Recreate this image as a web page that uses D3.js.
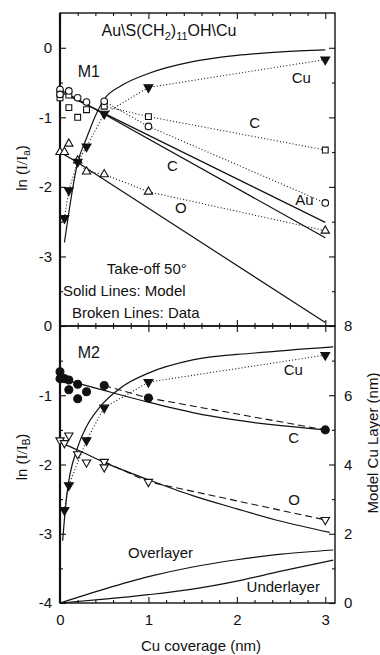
<!DOCTYPE html>
<html>
<head>
<meta charset="utf-8">
<script src="https://cdn.jsdelivr.net/npm/d3@7"></script>
<style>
  html, body { margin: 0; padding: 0; background: #fff; }
  svg { display: block; font-family: "Liberation Sans", Arial, Helvetica, sans-serif; }
  text { fill: #111; }
</style>
</head>
<body>
<script>
// ---- Data: ln(I/Ia) versus Cu coverage (nm) ----
const xTickValues = [0, 1, 2, 3];
const xTickLabels = ["0", "1", "2", "3"];
const topYTicks = [0, -1, -2, -3];
const bottomYTicks = [0, -1, -2, -3, -4];
const layerTicks = [0, 2, 4, 6, 8];

// Panel M1: measured points [coverage, ln(I/Ia)]
const m1Cu = [[0.05, -2.45], [0.1, -2.05], [0.2, -1.64], [0.3, -1.42], [0.5, -0.95], [1, -0.57], [3, -0.17]];
const m1Au = [[0, -0.6], [0, -0.67], [0.1, -0.62], [0.2, -0.72], [0.3, -0.78], [0.5, -0.77], [1, -1.13], [3, -2.23]];
const m1C  = [[0, -0.64], [0, -0.72], [0.1, -0.68], [0.1, -0.86], [0.2, -1.0], [0.3, -0.89], [0.5, -0.84], [1, -0.99], [3, -1.47]];
const m1O  = [[0, -1.5], [0.05, -1.5], [0.1, -1.38], [0.2, -1.62], [0.3, -1.78], [0.5, -1.82], [1, -2.07], [3, -2.63]];
// Panel M1: model curves
const m1CuModel = [[0.05, -2.8], [0.2, -1.65], [0.3, -1.3], [0.4, -0.98], [0.5, -0.74], [0.7, -0.54], [1, -0.37], [1.5, -0.2], [2, -0.11], [2.5, -0.06], [3, -0.03]];
const m1AuModel = [[0, -0.63], [3, -2.51]];
const m1CModel  = [[0, -0.6], [3, -2.73]];
const m1OModel  = [[0, -1.5], [0.2, -1.65], [3, -3.95]];

// Panel M2: measured points
const m2Cu = [[0.05, -2.66], [0.1, -2.3], [0.3, -1.65], [0.5, -1.18], [1, -0.81], [3, -0.42]];
const m2C  = [[0, -0.66], [0, -0.76], [0.05, -0.76], [0.1, -0.78], [0.1, -0.92], [0.2, -0.84], [0.2, -1.05], [0.3, -0.95], [0.5, -0.86], [1, -1.04], [3, -1.5]];
const m2O  = [[0, -1.65], [0.05, -1.69], [0.1, -1.58], [0.2, -1.85], [0.3, -1.97], [0.5, -1.96], [0.5, -2.04], [1, -2.25], [3, -2.8]];
// Panel M2: model curves
const m2CuModel = [[0.03, -3.1], [0.075, -2.46], [0.2, -1.75], [0.3, -1.45], [0.45, -1.17], [0.7, -0.88], [1, -0.68], [1.5, -0.49], [2.2, -0.39], [3.09, -0.3]];
const m2CModel  = [[0, -0.76], [0.3, -0.86], [0.5, -0.93], [1, -1.1], [1.5, -1.25], [2, -1.36], [2.5, -1.44], [3, -1.5]];
const m2OModel  = [[0, -1.68], [0.2, -1.79], [0.5, -1.97], [1, -2.22], [1.5, -2.45], [2, -2.64], [2.5, -2.82], [3.05, -2.98]];

// Model Cu layer thickness (nm), right axis
const overlayer  = [[0, 0], [0.5, 0.4], [1, 0.76], [1.5, 1.04], [2, 1.25], [2.5, 1.41], [3.09, 1.53]];
const underlayer = [[0, 0], [0.5, 0.11], [1, 0.24], [1.5, 0.4], [2, 0.63], [2.5, 0.92], [3.09, 1.24]];

// ---- Layout ----
const W = 380, H = 655;
const L = 60, R = 335, T = 13, MID = 326, B = 603;

const svg = d3.select("body").append("svg").attr("width", W).attr("height", H);

const x = d3.scaleLinear().domain([0, 3.11]).range([L, R]);
const yTop = d3.scaleLinear().domain([-4, 0.5]).range([MID, T]);
const yBot = d3.scaleLinear().domain([-4, 0]).range([B, MID]);
const yLayer = d3.scaleLinear().domain([0, 8]).range([B, MID]);

const minorX = d3.range(0, 3.11, 0.2).filter(v => Math.abs(v - Math.round(v)) > 1e-6);

function styleAxis(g) {
  g.select(".domain").remove();
  g.selectAll(".tick line").attr("stroke", "#111").attr("stroke-width", 1.1);
  g.selectAll("text").attr("font-size", 15).attr("fill", "#111")
    .attr("font-family", "'Liberation Sans', Arial, sans-serif");
}
function addAxis(axis, tx, ty) {
  svg.append("g").attr("transform", `translate(${tx},${ty})`).call(axis).call(styleAxis);
}
const fmt = d => String(d);

// x ticks along the top of M1, the shared edge and the bottom of M2
addAxis(d3.axisTop(x).tickValues(xTickValues).tickSize(-6).tickFormat(""), 0, T);
addAxis(d3.axisTop(x).tickValues(minorX).tickSize(-3).tickFormat(""), 0, T);
addAxis(d3.axisBottom(x).tickValues(xTickValues).tickSize(-6).tickFormat(""), 0, MID);
addAxis(d3.axisBottom(x).tickValues(minorX).tickSize(-3).tickFormat(""), 0, MID);
addAxis(d3.axisTop(x).tickValues(xTickValues).tickSize(-6).tickFormat(""), 0, MID);
addAxis(d3.axisTop(x).tickValues(minorX).tickSize(-3).tickFormat(""), 0, MID);
addAxis(d3.axisBottom(x).tickValues(xTickValues).tickSize(-6).tickPadding(11)
  .tickFormat((d, i) => xTickLabels[i]), 0, B);
addAxis(d3.axisBottom(x).tickValues(minorX).tickSize(-3).tickFormat(""), 0, B);

// y ticks, panel M1
addAxis(d3.axisLeft(yTop).tickValues(topYTicks).tickSize(-6).tickPadding(8).tickFormat(fmt), L, 0);
addAxis(d3.axisLeft(yTop).tickValues([-0.5, -1.5, -2.5, -3.5]).tickSize(-3).tickFormat(""), L, 0);
addAxis(d3.axisRight(yTop).tickValues(topYTicks).tickSize(-6).tickFormat(""), R, 0);
addAxis(d3.axisRight(yTop).tickValues([-0.5, -1.5, -2.5, -3.5]).tickSize(-3).tickFormat(""), R, 0);

// y ticks, panel M2
addAxis(d3.axisLeft(yBot).tickValues(bottomYTicks).tickSize(-6).tickPadding(8).tickFormat(fmt), L, 0);
addAxis(d3.axisLeft(yBot).tickValues([-0.5, -1.5, -2.5, -3.5]).tickSize(-3).tickFormat(""), L, 0);
addAxis(d3.axisRight(yLayer).tickValues(layerTicks).tickSize(-6).tickPadding(9).tickFormat(fmt), R, 0);
addAxis(d3.axisRight(yLayer).tickValues([1, 3, 5, 7]).tickSize(-3).tickFormat(""), R, 0);

// Panel frames
svg.append("rect").attr("x", L).attr("y", T).attr("width", R - L).attr("height", MID - T)
  .attr("fill", "none").attr("stroke", "#111").attr("stroke-width", 1.4);
svg.append("rect").attr("x", L).attr("y", MID).attr("width", R - L).attr("height", B - MID)
  .attr("fill", "none").attr("stroke", "#111").attr("stroke-width", 1.4);
svg.append("line").attr("x1", L).attr("x2", L).attr("y1", T).attr("y2", B)
  .attr("stroke", "#111").attr("stroke-width", 2.2);

// ---- Lines ----
function drawLine(data, yScale, dash, width, curve) {
  const gen = d3.line().x(d => x(d[0])).y(d => yScale(d[1])).curve(curve || d3.curveLinear);
  svg.append("path").datum(data).attr("d", gen).attr("fill", "none")
    .attr("stroke", "#111").attr("stroke-width", width)
    .attr("stroke-dasharray", dash || null);
}
const DOT = "1,2.2", DASH = "7,4";
const from = (data, x0) => data.filter(d => d[0] >= x0);

// M1 model curves (solid) and measured trends (dotted)
drawLine(m1CuModel, yTop, null, 1.2, d3.curveMonotoneX);
drawLine(m1AuModel, yTop, null, 1.2);
drawLine(m1CModel, yTop, null, 1.2);
drawLine(m1OModel, yTop, null, 1.2);
drawLine(m1Cu, yTop, DOT, 1.1);
drawLine(from(m1C, 0.5).filter((d, i, a) => i === 0 || d[0] !== a[i - 1][0]), yTop, DOT, 1.1);
drawLine(from(m1Au, 0.5), yTop, DOT, 1.1);
drawLine(from(m1O, 0.2), yTop, DOT, 1.1);

// M2 model curves (solid) and measured trends (dotted / dashed)
drawLine(m2CuModel, yBot, null, 1.2, d3.curveMonotoneX);
drawLine(m2CModel, yBot, null, 1.2, d3.curveMonotoneX);
drawLine(m2OModel, yBot, null, 1.2, d3.curveMonotoneX);
drawLine(m2Cu, yBot, DOT, 1.1);
drawLine(from(m2C, 0.5), yBot, DASH, 1.1);
drawLine([from(m2O, 0.5)[0]].concat(from(m2O, 1)), yBot, DASH, 1.1);

// Model Cu layer thickness
drawLine(overlayer, yLayer, null, 1.2, d3.curveMonotoneX);
drawLine(underlayer, yLayer, null, 1.2, d3.curveMonotoneX);

// ---- Markers ----
function drawMarks(data, yScale, type, size, filled, rotate) {
  const sym = d3.symbol().type(type).size(size);
  svg.append("g").selectAll("path").data(data).join("path")
    .attr("d", sym)
    .attr("transform", d => `translate(${x(d[0])},${yScale(d[1])})${rotate ? " rotate(180)" : ""}`)
    .attr("fill", filled ? "#111" : "#fff")
    .attr("stroke", "#111").attr("stroke-width", 1.1);
}
drawMarks(m1C, yTop, d3.symbolSquare, 34, false);
drawMarks(m1Au, yTop, d3.symbolCircle, 34, false);
drawMarks(m1O, yTop, d3.symbolTriangle, 30, false);
drawMarks(m1Cu, yTop, d3.symbolTriangle, 34, true, true);

drawMarks(m2C, yBot, d3.symbolCircle, 50, true);
drawMarks(m2O, yBot, d3.symbolTriangle, 30, false, true);
drawMarks(m2Cu, yBot, d3.symbolTriangle, 34, true, true);

// ---- Annotations ----
function label(txt, xv, yv, yScale, size, anchor) {
  return svg.append("text").attr("x", x(xv)).attr("y", yScale(yv))
    .attr("font-size", size || 15).attr("text-anchor", anchor || "start").text(txt);
}
// title with subscripts
const title = svg.append("text").attr("x", x(0.47)).attr("y", yTop(0.17)).attr("font-size", 16);
title.append("tspan").text("Au\\S(CH");
title.append("tspan").attr("font-size", 11).attr("dy", 4).text("2");
title.append("tspan").attr("dy", -4).text(")");
title.append("tspan").attr("font-size", 11).attr("dy", 4).text("11");
title.append("tspan").attr("dy", -4).text("OH\\Cu");

label("M1", 0.2, -0.42, yTop, 16);
label("Cu", 2.62, -0.5, yTop, 15);
label("C", 2.14, -1.15, yTop, 15);
label("C", 1.21, -1.77, yTop, 15);
label("O", 1.30, -2.37, yTop, 15);
label("Au", 2.66, -2.26, yTop, 15);
label("Take-off 50°", 0.53, -3.25, yTop, 15);
label("Solid Lines: Model", 0.034, -3.57, yTop, 15);
label("Broken Lines: Data", 0.136, -3.88, yTop, 15);

label("M2", 0.2, -0.46, yBot, 16);
label("Cu", 2.53, -0.71, yBot, 15);
label("C", 2.58, -1.69, yBot, 15);
label("O", 2.58, -2.58, yBot, 15);
label("Overlayer", 0.77, -3.35, yBot, 15);
label("Underlayer", 2.11, -3.84, yBot, 15);

// Axis titles
function yTitle(cx, cy, sub) {
  const t = svg.append("text").attr("transform", `translate(${cx},${cy}) rotate(-90)`)
    .attr("text-anchor", "middle").attr("font-size", 15);
  t.append("tspan").text("ln (");
  t.append("tspan").attr("font-family", "'Liberation Serif', 'Times New Roman', serif").text("I/I");
  t.append("tspan").attr("font-size", 10).attr("dy", 3).text(sub);
  t.append("tspan").attr("dy", -3).text(")");
}
yTitle(27, 168, "a");
yTitle(27, 457, "B");

svg.append("text").attr("transform", `translate(378,443) rotate(-90)`)
  .attr("text-anchor", "middle").attr("font-size", 15).text("Model Cu Layer (nm)");
svg.append("text").attr("x", 201).attr("y", 651).attr("text-anchor", "middle")
  .attr("font-size", 15).text("Cu coverage (nm)");
</script>
</body>
</html>
